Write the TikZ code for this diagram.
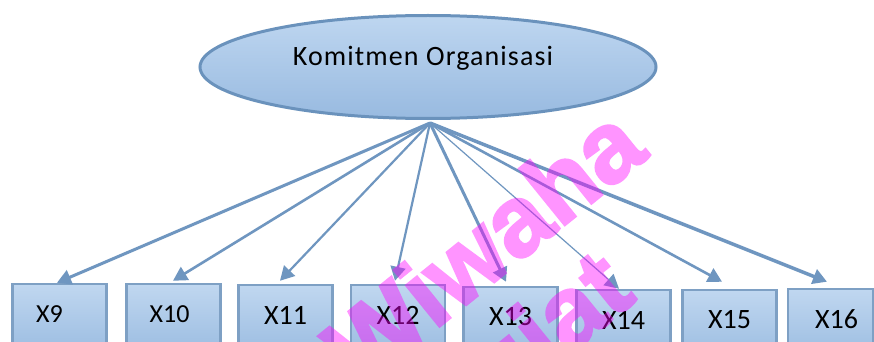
\documentclass[tikz,border=0pt]{standalone}
\usepackage{fontspec}
\setmainfont{Carlito}
\newfontfamily\titlefont{Carlito}[LetterSpace=4]
\newfontfamily\wmfont{Liberation Sans Bold}[FakeBold=2.5]
\usetikzlibrary{shapes.geometric,arrows.meta,calc}

\definecolor{edgeblue}{RGB}{111,150,192}
\definecolor{ringblue}{RGB}{106,146,188}
\definecolor{filltop}{RGB}{190,214,240}
\definecolor{fillbot}{RGB}{152,186,224}
\definecolor{boxedge}{RGB}{126,160,196}
\definecolor{boxtop}{RGB}{192,215,240}
\definecolor{boxbot}{RGB}{160,192,227}
\definecolor{wmpink}{RGB}{255,0,255}

\tikzset{
  latent/.style={ellipse, draw=ringblue, line width=3pt,
    top color=filltop, bottom color=fillbot,
    minimum width=456pt, minimum height=103pt, inner sep=0pt,
    text height=18pt, text depth=20pt,
    font=\titlefont\fontsize{28}{28}\selectfont},
  item/.style={rectangle, draw=boxedge, line width=2.5pt,
    top color=boxtop, bottom color=boxbot,
    minimum width=94pt, minimum height=60pt, inner sep=0pt,
    font=\fontsize{28}{28}\selectfont},
  small/.style={font=\fontsize{26}{26}\selectfont},
  arr/.style={draw=edgeblue, -{Triangle[length=14pt,width=15pt]}},
  wm/.style={font=\wmfont\fontsize{100}{100}\selectfont,
    text=wmpink, inner sep=0pt, outer sep=0pt,
    anchor=base east, rotate=39}
}

\begin{document}
\begin{tikzpicture}[x=1pt,y=-1pt]
\useasboundingbox (0,0) rectangle (874,342);
\clip (0,0) rectangle (874,342);
\fill[white] (0,0) rectangle (874,342);

% latent construct
\node[latent] (lat) at (428,67) {\hspace*{-10pt}Komitmen Organisasi};
\coordinate (hub) at (430,123);

% indicator boxes
\node[item,small] (b9)  at (59.5,314)  {\hspace*{-20pt}X9};
\node[item,small] (b10) at (173.5,314) {\hspace*{-8pt}X10};
\node[item] (b11) at (285.5,315) {X11};
\node[item] (b12) at (398,315)   {X12};
\node[item] (b13) at (510.5,317) {X13};
\node[item] (b14) at (623.5,320) {X14};
\node[item] (b15) at (729.5,320) {X15};
\node[item,minimum width=85pt] (b16) at (830.5,319) {\hspace*{12pt}X16};

% loadings
\draw[arr, line width=3pt]   (hub) -- ([xshift=-2.5pt]b9.north);
\draw[arr, line width=2.6pt] (hub) -- ([xshift=-0.5pt,yshift=2pt]b10.north);
\draw[arr, line width=2.2pt] (hub) -- ([xshift=-5.5pt,yshift=3pt]b11.north);
\draw[arr, line width=2.2pt] (hub) -- ([xshift=-3pt,yshift=3pt]b12.north);
\draw[arr, line width=3pt]   (hub) -- ([xshift=-4.5pt,yshift=4pt]b13.north);
\draw[arr, line width=1.2pt] (hub) -- ([xshift=-4.5pt]b14.north);
\draw[arr, line width=2.6pt] (hub) -- ([xshift=-7.5pt,yshift=7pt]b15.north);
\draw[arr, line width=3.5pt] (hub) -- ([xshift=-3.5pt,yshift=6pt]b16.north);

% repository watermark, drawn as one translucent layer
\begin{scope}[transparency group, opacity=0.42]
\node[wm] (wmA) at (650,156) {Wiwaha};
\node[wm] (wmB) at (638,299) {Plagiat};
\end{scope}
\end{tikzpicture}
\end{document}
